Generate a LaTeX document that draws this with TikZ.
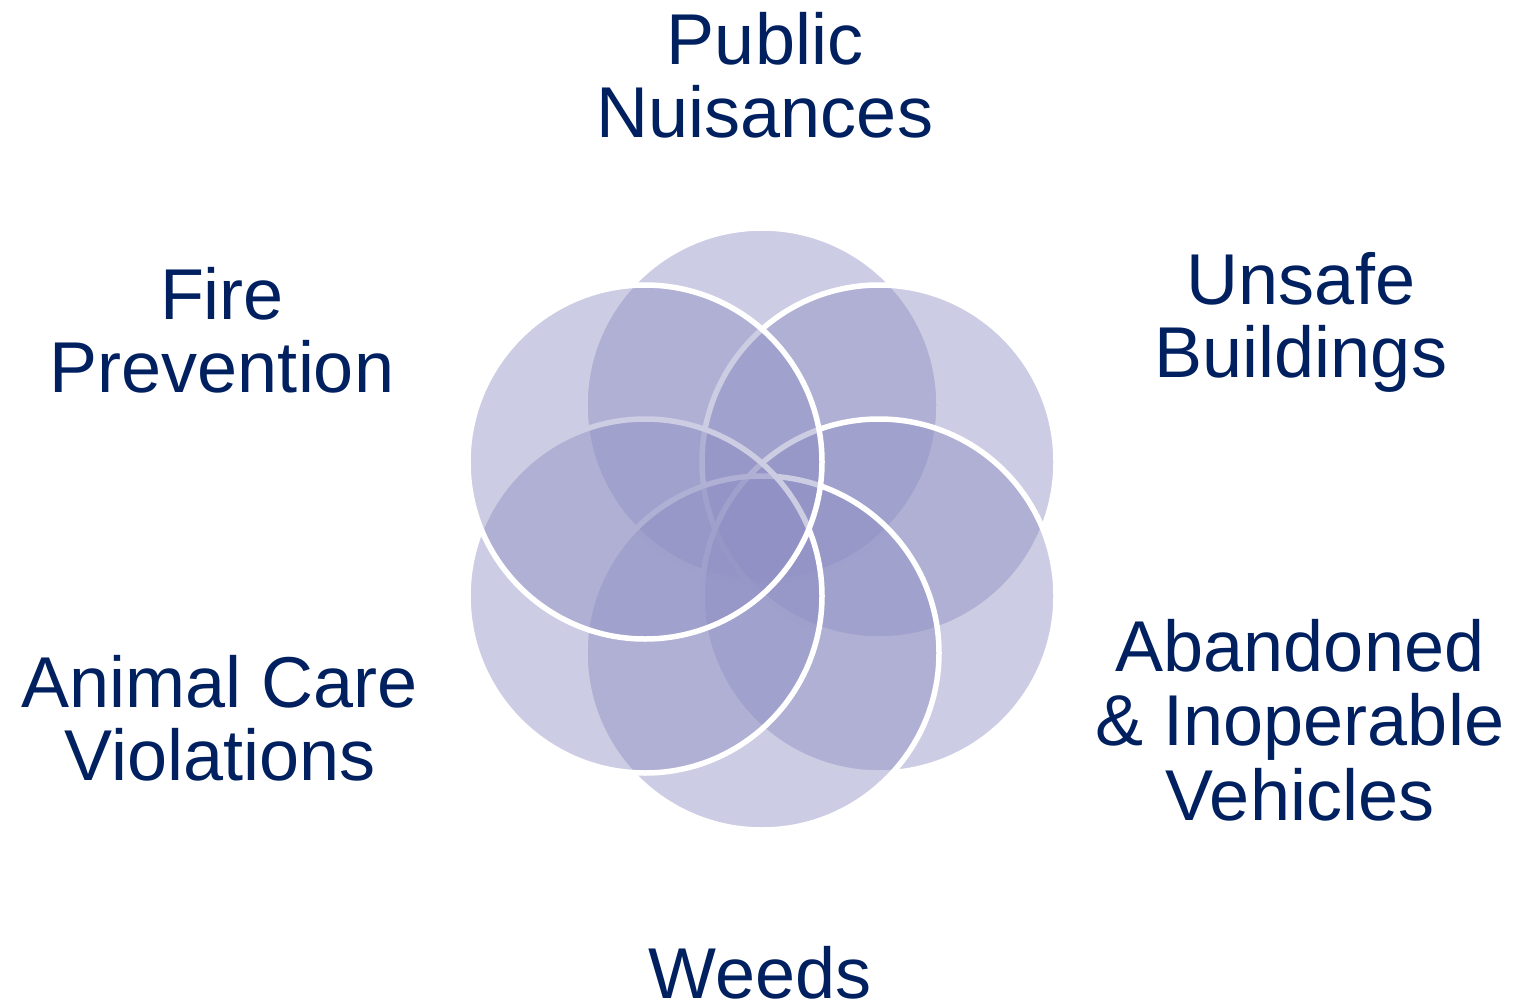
\documentclass[tikz,border=0pt]{standalone}
\usepackage{fontspec}
\setmainfont{Liberation Sans}
\definecolor{navytext}{RGB}{0,32,96}
\definecolor{ringfill}{RGB}{142,142,195}
\begin{document}
\begin{tikzpicture}[x=1pt,y=-1pt,
  ring/.style={circle, draw=white, line width=5.5pt, fill=ringfill,
    fill opacity=0.45, draw opacity=1, inner sep=0pt, minimum size=354pt},
  lbl/.style={text=navytext, align=center, inner sep=0pt, anchor=base,
    font=\fontsize{72}{73}\selectfont}]
\useasboundingbox (0,0) rectangle (1514,1003);
% rings, drawn clockwise from the top
\node[ring] (rtop) at (762,405) {};
\node[ring] (rur)  at (879,462) {};
\node[ring] (rlr)  at (879,596) {};
\node[ring] (rbot) at (762,653) {};
\node[ring] (rll)  at (645,596) {};
\node[ring] (rul)  at (645,462) {};
% labels (anchored at the baseline of their last line)
\node[lbl] (pub)   at (765,138)  {Public\\Nuisances};
\node[lbl] (uns)   at (1301,377) {Unsafe\\Buildings};
\node[lbl] (fire)  at (222,392)  {Fire\\Prevention};
\node[lbl] (anim)  at (220,780)  {Animal Care\\Violations};
\node[lbl, font=\fontsize{72}{74.5}\selectfont] (aban) at (1300,820) {Abandoned\\\& Inoperable\\Vehicles};
\node[lbl] (weeds) at (760,998) {Weeds};
\end{tikzpicture}
\end{document}
